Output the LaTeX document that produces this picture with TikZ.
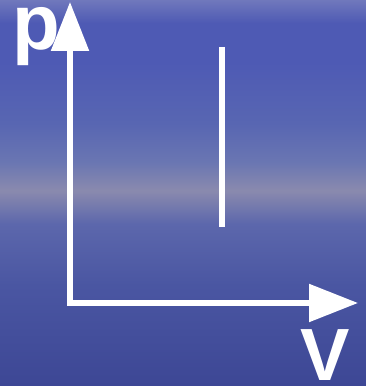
\documentclass[tikz,border=0pt]{standalone}
\usepackage{fontspec}
\setmainfont{Liberation Sans}
\usetikzlibrary{arrows.meta}
\definecolor{seadark}{HTML}{3D4795}
\definecolor{seamid}{HTML}{4A56A2}
\definecolor{seahigh}{HTML}{5C67AC}
\definecolor{haze}{HTML}{8A8AAE}
\definecolor{skylow}{HTML}{6A76B2}
\definecolor{skymid}{HTML}{5866B2}
\definecolor{skyblue}{HTML}{4E5AB4}
\definecolor{skytop}{HTML}{7078BC}
\pgfdeclareverticalshading{skysea}{100bp}{color(0bp)=(seadark); color(25bp)=(seadark); color(38bp)=(seamid); color(46bp)=(seahigh); color(50.3bp)=(haze); color(54bp)=(skylow); color(59bp)=(skymid); color(67bp)=(skyblue); color(72bp)=(skyblue); color(75bp)=(skytop); color(100bp)=(skytop)}
\tikzset{
  axis/.style={white,line width=5.5pt,-{Triangle[length=49pt,width=37pt]}},
  isoline/.style={white,line width=5.5pt},
  lbl/.style={white,inner sep=0pt,font=\fontsize{76}{76}\selectfont\bfseries}
}
\begin{document}
\begin{tikzpicture}[x=1pt,y=1pt]
        \useasboundingbox (0,0) rectangle (366,386);
        \shade[shading=skysea] (0,0) rectangle (366,386);
        \coordinate (O) at (70,83);
        \coordinate (ptip) at (70,384);
        \coordinate (vtip) at (358,83);
        \draw[axis] ([yshift=-2.75pt]O) -- (ptip);
        \draw[axis] ([xshift=-2.75pt]O) -- (vtip);
        \coordinate (a) at (222,339);
        \coordinate (b) at (222,159);
        \draw[isoline] (a) -- (b);
        \node[lbl,font=\fontsize{78}{78}\selectfont\bfseries] (p) at (36,349) {p};
        \node[lbl,font=\fontsize{74}{74}\selectfont\bfseries] (V) at (325,31) {V};
    \end{tikzpicture}
\end{document}
